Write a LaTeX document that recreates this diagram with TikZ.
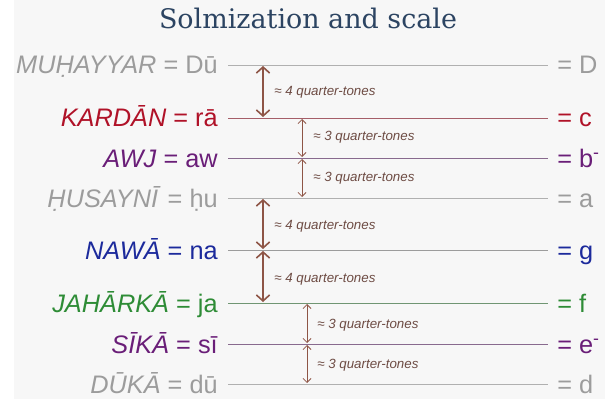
\documentclass[tikz,border=0pt]{standalone}
\usepackage{fontspec}
\setmainfont{Liberation Sans}
\newfontfamily\titlefont{DejaVu Serif}
\usetikzlibrary{arrows.meta}

\definecolor{paper}{HTML}{F7F7F7}
\definecolor{titleblue}{HTML}{2C4462}
\definecolor{greytone}{HTML}{9C9C9C}
\definecolor{redtone}{HTML}{B01228}
\definecolor{purpletone}{HTML}{6A1E78}
\definecolor{bluetone}{HTML}{1C2A9C}
\definecolor{greentone}{HTML}{2E8C36}
\definecolor{arrowbrown}{HTML}{8E5546}
\definecolor{notebrown}{HTML}{6E4C44}

\begin{document}
\begin{tikzpicture}[x=0.75pt,y=-0.75pt,every node/.style={inner sep=0pt,font=\fontsize{19}{21}\selectfont},
	degree/.style={anchor=base east}, western/.style={anchor=base west},
	staff/.style={line width=0.6pt},
	bigtone/.style={arrowbrown,line width=1.2pt,{Straight Barb[length=4.5pt,width=10pt]}-{Straight Barb[length=4.5pt,width=10pt]}},
	smalltone/.style={arrowbrown,line width=0.6pt,{Straight Barb[length=3pt,width=6pt]}-{Straight Barb[length=3pt,width=6pt]}},
	qtones/.style={anchor=west,notebrown,font=\fontsize{10}{12}\selectfont\itshape}]
	\fill[white] (0,0) rectangle (605,399);
	\fill[paper] (14,0) rectangle (605,399);
	\useasboundingbox (0,0) rectangle (605,399);
	\node[titleblue] (title) at (308,18) {\titlefont\fontsize{20.2}{22}\selectfont Solmization and scale};
	% the eight degrees, left name and right letter
	\node[degree,greytone] (muhayyar) at (218,74) {\textit{MUḤAYYAR} = Dū};
	\node[degree,redtone] (kardan) at (218,127) {\textit{KARDĀN} = rā};
	\node[degree,purpletone] (awj) at (218,167) {\textit{AWJ} = aw};
	\node[degree,greytone] (husayni) at (218,207) {\textit{ḤUSAYNĪ} = ḥu};
	\node[degree,bluetone] (nawa) at (218,259) {\textit{NAWĀ} = na};
	\node[degree,greentone] (jaharka) at (218,312) {\textit{JAHĀRKĀ} = ja};
	\node[degree,purpletone] (sika) at (218,353) {\textit{SĪKĀ} = sī};
	\node[degree,greytone] (duka) at (218,393) {\textit{DŪKĀ} = dū};
	\node[western,greytone] (D) at (557,74) {= D};
	\node[western,redtone] (c) at (557,127) {= c};
	\node[western,purpletone] (b) at (557,167) {= b\textsuperscript{-}};
	\node[western,greytone] (a) at (557,207) {= a};
	\node[western,bluetone] (g) at (557,259) {= g};
	\node[western,greentone] (f) at (557,312) {= f};
	\node[western,purpletone] (e) at (557,353) {= e\textsuperscript{-}};
	\node[western,greytone] (d) at (557,393) {= d};
	% staff lines
	\coordinate (muhayyarL) at (228,65); \coordinate (muhayyarR) at (548,65);
	\coordinate (kardanL) at (228,118); \coordinate (kardanR) at (548,118);
	\coordinate (awjL) at (228,158); \coordinate (awjR) at (548,158);
	\coordinate (husayniL) at (228,198); \coordinate (husayniR) at (548,198);
	\coordinate (nawaL) at (228,250); \coordinate (nawaR) at (548,250);
	\coordinate (jaharkaL) at (228,303); \coordinate (jaharkaR) at (548,303);
	\coordinate (sikaL) at (228,344); \coordinate (sikaR) at (548,344);
	\coordinate (dukaL) at (228,384); \coordinate (dukaR) at (548,384);
	\draw[staff,greytone!80] (muhayyarL) -- (muhayyarR);
	\draw[staff,redtone!45!greytone] (kardanL) -- (kardanR);
	\draw[staff,purpletone!40!greytone] (awjL) -- (awjR);
	\draw[staff,greytone!80] (husayniL) -- (husayniR);
	\draw[staff,greytone] (nawaL) -- (nawaR);
	\draw[staff,greentone!40!greytone] (jaharkaL) -- (jaharkaR);
	\draw[staff,purpletone!40!greytone] (sikaL) -- (sikaR);
	\draw[staff,greytone!80] (dukaL) -- (dukaR);
	% intervals
	\coordinate (i1a) at (263,66); \coordinate (i1b) at (263,117);
	\coordinate (i2a) at (302,119); \coordinate (i2b) at (302,157);
	\coordinate (i3a) at (302,159); \coordinate (i3b) at (302,197);
	\coordinate (i4a) at (263,199); \coordinate (i4b) at (263,249);
	\coordinate (i5a) at (263,251); \coordinate (i5b) at (263,302);
	\coordinate (i6a) at (307,304); \coordinate (i6b) at (307,343);
	\coordinate (i7a) at (307,345); \coordinate (i7b) at (307,383);
	\draw[bigtone] (i1a) -- (i1b);
	\draw[smalltone] (i2a) -- (i2b);
	\draw[smalltone] (i3a) -- (i3b);
	\draw[bigtone] (i4a) -- (i4b);
	\draw[bigtone] (i5a) -- (i5b);
	\draw[smalltone] (i6a) -- (i6b);
	\draw[smalltone] (i7a) -- (i7b);
	\node[qtones] (q1) at (274,92) {≈ 4 quarter-tones};
	\node[qtones] (q2) at (313,137) {≈ 3 quarter-tones};
	\node[qtones] (q3) at (313,178) {≈ 3 quarter-tones};
	\node[qtones] (q4) at (274,226) {≈ 4 quarter-tones};
	\node[qtones] (q5) at (274,279) {≈ 4 quarter-tones};
	\node[qtones] (q6) at (317,325) {≈ 3 quarter-tones};
	\node[qtones] (q7) at (317,365) {≈ 3 quarter-tones};
\end{tikzpicture}
\end{document}
